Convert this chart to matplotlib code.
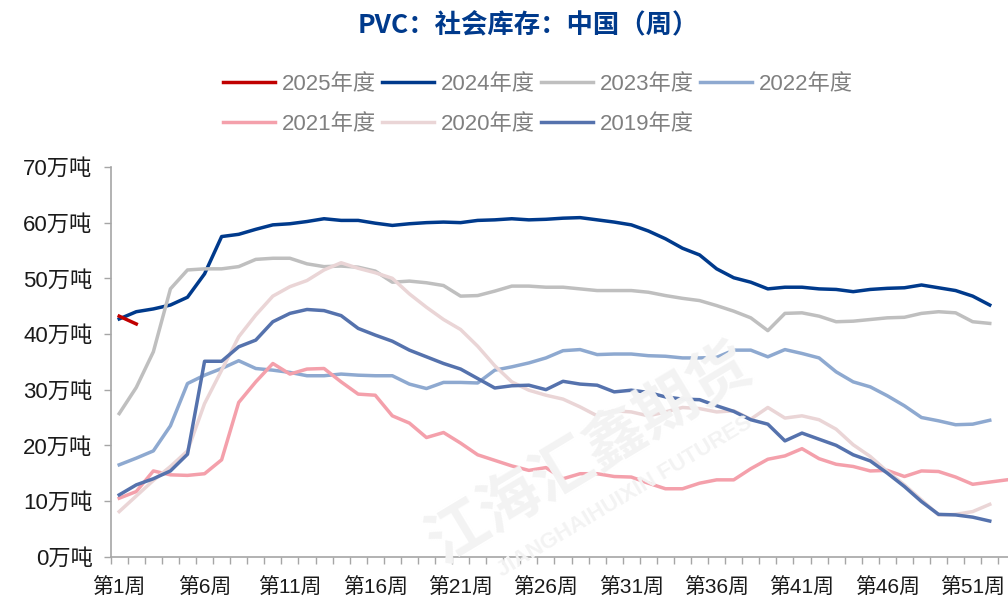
import matplotlib
matplotlib.use('Agg')
import matplotlib.pyplot as plt
from matplotlib.lines import Line2D
import numpy as np

plt.rcParams['font.family'] = ['Liberation Sans', 'Noto Sans CJK SC']

# 数据 (万吨), 周度
weeks = ['第%d周' % n for n in range(1, 54)]
y_ticks = [0, 10, 20, 30, 40, 50, 60, 70]
y_labels = ['%d万吨' % v for v in y_ticks]

y2025 = [43.2, 41.8]
y2024 = [42.7, 44.0, 44.5, 45.2, 46.6, 50.8, 57.5, 57.9, 58.8, 59.6, 59.8, 60.2, 60.7,
         60.4, 60.4, 59.9, 59.5, 59.8, 60.0, 60.1, 60.0, 60.4, 60.5, 60.7, 60.5, 60.6,
         60.8, 60.9, 60.5, 60.1, 59.6, 58.5, 57.1, 55.4, 54.2, 51.7, 50.1, 49.3, 48.1,
         48.4, 48.4, 48.1, 48.0, 47.6, 48.0, 48.2, 48.3, 48.8, 48.3, 47.8, 46.8, 45.2]
y2023 = [25.7, 30.4, 36.8, 48.1, 51.5, 51.7, 51.7, 52.1, 53.4, 53.6, 53.6, 52.6, 52.1,
         52.2, 52.0, 51.3, 49.3, 49.5, 49.2, 48.7, 46.8, 46.9, 47.7, 48.6, 48.6, 48.4,
         48.4, 48.1, 47.8, 47.8, 47.8, 47.5, 46.9, 46.4, 46.0, 45.1, 44.1, 42.9, 40.6,
         43.7, 43.8, 43.2, 42.2, 42.3, 42.6, 42.9, 43.0, 43.7, 44.0, 43.8, 42.2, 41.9]
y2022 = [16.5, 17.7, 19.0, 23.5, 31.1, 32.6, 33.8, 35.2, 33.8, 33.5, 33.1, 32.5, 32.5,
         32.8, 32.6, 32.5, 32.5, 31.0, 30.2, 31.3, 31.3, 31.2, 33.5, 34.1, 34.8, 35.7,
         37.0, 37.2, 36.3, 36.4, 36.4, 36.1, 36.0, 35.7, 35.7, 35.8, 37.1, 37.1, 35.9,
         37.2, 36.5, 35.7, 33.2, 31.4, 30.5, 28.9, 27.1, 25.0, 24.4, 23.7, 23.8, 24.5]
y2021 = [10.5, 11.7, 15.4, 14.7, 14.6, 14.9, 17.4, 27.7, 31.4, 34.7, 32.8, 33.7, 33.8,
         31.4, 29.2, 29.0, 25.3, 24.0, 21.4, 22.3, 20.4, 18.3, 17.3, 16.3, 15.5, 16.0,
         14.0, 14.9, 14.9, 14.4, 14.3, 13.2, 12.2, 12.2, 13.2, 13.8, 13.8, 15.8, 17.5,
         18.1, 19.4, 17.6, 16.6, 16.2, 15.4, 15.5, 14.4, 15.4, 15.3, 14.3, 13.0, 13.4, 13.8]
y2020 = [8.1, 10.9, 13.7, 16.2, 19.0, 27.5, 33.5, 39.5, 43.4, 46.8, 48.5, 49.6, 51.5,
         52.8, 51.8, 51.0, 50.0, 47.2, 44.8, 42.6, 40.8, 37.8, 34.3, 31.4, 29.9, 29.0,
         28.3, 26.9, 25.3, 26.2, 26.0, 25.3, 26.0, 26.8, 26.6, 26.0, 26.2, 24.7, 26.8,
         24.9, 25.3, 24.6, 22.9, 20.1, 18.0, 15.3, 12.9, 10.2, 7.5, 7.6, 8.1, 9.4]
y2019 = [11.1, 12.9, 14.0, 15.4, 18.4, 35.1, 35.1, 37.7, 38.9, 42.2, 43.7, 44.4, 44.2,
         43.3, 41.0, 39.8, 38.7, 37.1, 35.9, 34.7, 33.7, 32.0, 30.3, 30.7, 30.8, 30.0,
         31.5, 31.0, 30.8, 29.6, 29.9, 29.5, 28.7, 28.3, 28.2, 27.1, 26.1, 24.6, 23.8,
         20.8, 22.2, 21.1, 20.0, 18.3, 17.2, 15.0, 12.6, 9.9, 7.6, 7.5, 7.1, 6.4]

names = ['2025年度', '2024年度', '2023年度', '2022年度', '2021年度', '2020年度', '2019年度']
data = [y2025, y2024, y2023, y2022, y2021, y2020, y2019]
colors = ['#C00000', '#003A8C', '#BFBFBF', '#8EA9D0', '#F4A0AB', '#EAD5D6', '#5572AD']

fig = plt.figure(figsize=(10.08, 5.98), dpi=100)
ax = fig.add_axes([0.1098, 0.0691, 0.8975, 0.6517])

x = np.arange(len(weeks))
# 2019 画在最上面, 2025 最后
order = [1, 2, 3, 4, 5, 6, 0]
for z, k in enumerate(order):
    vals = data[k]
    ax.plot(x[:len(vals)], vals, color=colors[k], lw=2.5,
            solid_joinstyle='round', zorder=3 + z)

ax.set_xlim(-0.5, 52.5)
ax.set_ylim(0, 70)
ax.set_yticks(y_ticks)
ax.set_yticklabels(y_labels, fontsize=16, color='#1a1a1a')
ax.set_xticks(x[::5])
ax.set_xticklabels(weeks[::5], fontsize=15, color='#1a1a1a')
ax.set_xticks(np.arange(-0.5, 53, 1), minor=True)
ax.tick_params(axis='x', which='major', length=0, pad=15)
ax.tick_params(axis='x', which='minor', length=5, width=1, color='#A6A6A6')
ax.tick_params(axis='y', length=5, width=1, color='#A6A6A6', pad=8)
for s in ['top', 'right']:
    ax.spines[s].set_visible(False)
for s in ['left', 'bottom']:
    ax.spines[s].set_color('#A6A6A6')
    ax.spines[s].set_linewidth(1.2)

# 水印
fig.text(0.585, 0.24, '江海汇鑫期货', rotation=31, fontsize=44, color='#F3F3F3',
         ha='center', va='center', zorder=0, family=['Noto Sans CJK SC'], fontweight='bold')
fig.text(0.62, 0.17, 'JIANGHAIHUIXIN FUTURES', rotation=31, fontsize=16, color='#F3F3F3',
         ha='center', va='center', zorder=0, fontweight='bold')

# 图例 (按行排列)
leg_idx = [0, 4, 1, 5, 2, 6, 3]
handles = [Line2D([], [], color=colors[k], lw=2.5) for k in leg_idx]
labels = [names[k] for k in leg_idx]
fig.legend(handles, labels, ncol=4, loc='upper left', bbox_to_anchor=(0.221, 0.877),
           frameon=False, fontsize=16, handlelength=2.35, handletextpad=0.3,
           columnspacing=0.28, labelspacing=0.87, borderpad=0, borderaxespad=0,
           labelcolor='#808080')

fig.text(0.524, 0.958, 'PVC：社会库存：中国（周）', ha='center', va='center', fontsize=19,
         fontweight='bold', color='#003A8C', family=['Noto Sans CJK SC'])

fig.savefig('out.png', dpi=100)
